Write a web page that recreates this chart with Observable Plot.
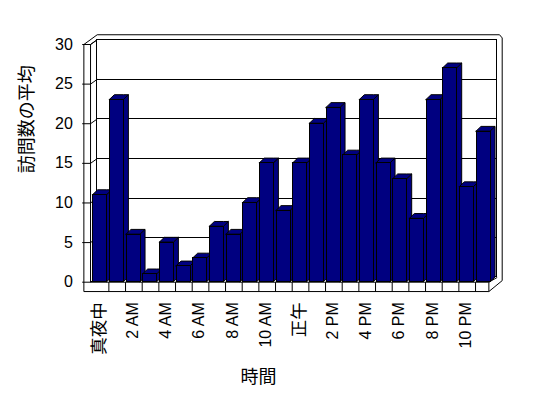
<!DOCTYPE html>
<html><head><meta charset="utf-8">
<script src="https://cdn.jsdelivr.net/npm/d3@7"></script>
<script src="https://cdn.jsdelivr.net/npm/@observablehq/plot@0.6"></script>
<style>body{margin:0;background:#fff}</style>
</head><body><div id="chart"></div>
<script>
// ---- data ----
const hours = [0,1,2,3,4,5,6,7,8,9,10,11,12,13,14,15,16,17,18,19,20,21,22,23];
const visits = [11,23,6,1,5,2,3,7,6,10,15,9,15,20,22,16,23,15,13,8,23,27,12,19];
const tickHours = [0,2,4,6,8,10,12,14,16,18,20,22];
const tickLabels = ["真夜中","2 AM","4 AM","6 AM","8 AM","10 AM","正午","2 PM","4 PM","6 PM","8 PM","10 PM"];
const yTicks = [0,5,10,15,20,25,30];
const yTitle = "訪問数の平均";
const xTitle = "時間";

// ---- geometry (derived) ----
const n = hours.length, yMax = yTicks[yTicks.length-1];
const DX = 0.3, DY = 0.6;          // 3-D depth offset in data units
const L = -0.5, LI = -0.1, FB = -1.18, R = n - 0.2, TX = 0.3, T = 0.63;
const navy = "#000080";

const bars = hours.map((h,i)=>({h, v: visits[i], x1: h+0.06, x2: h+0.9}));
const faces = bars.flatMap((b,i)=>[
  {z:"s"+i, x:b.x2,    y1:0,        y2:b.v},
  {z:"s"+i, x:b.x2+DX, y1:DY,       y2:b.v+DY},
  {z:"t"+i, x:b.x1,    y1:b.v,      y2:b.v},
  {z:"t"+i, x:b.x1+DX, y1:b.v,      y2:b.v+DY},
  {z:"t"+i, x:b.x2,    y1:b.v,      y2:b.v+DY},
  {z:"t"+i, x:b.x2+DX, y1:b.v+DY,   y2:b.v+DY}
]);

const seg = (x1,y1,x2,y2)=>({x1,y1,x2,y2});
const wallTop = yMax+DY+T, RO = n+DX+TX;
const frame = [
  seg(L,FB,L,yMax), seg(LI,0,LI,yMax), seg(L,yMax,LI,yMax),
  seg(L,yMax,DX,wallTop), seg(LI,yMax,DX,yMax+DY),
  seg(DX,wallTop,RO-0.16,wallTop), seg(RO-0.16,wallTop,RO,wallTop-0.4), seg(RO,wallTop-0.4,RO,DY-0.4),
  seg(R,FB,RO,DY-0.4), seg(L,FB,R,FB), seg(LI,0,R,0), seg(R,FB,R,0), seg(R,0,n+DX,DY)
];
for (let k=1;k<n;k++) frame.push(seg(k,FB,k,0));
for (const t of yTicks) { frame.push(seg(-0.6,t,LI,t)); frame.push(seg(LI,t,DX,t+DY)); }
const grid = yTicks.filter(t=>t>0 && t<yMax).map(t=>seg(DX,t+DY,n+DX,t+DY));
const wall = [{x1:DX, x2:n+DX, y1:DY, y2:yMax+DY}];

const font = "'Liberation Sans', 'Noto Sans CJK JP', sans-serif";
const isCJK = s => /[^\x00-\x7f]/.test(s);

const chart = Plot.plot({
  width: 548, height: 398,
  marginLeft: 91.7, marginRight: 56.3, marginTop: 44, marginBottom: 116.3,
  x: {domain: [0, n], axis: null},
  y: {domain: [0, yMax], axis: null},
  style: {background: "white", fontFamily: font, fontSize: "16px", overflow: "visible", color: "black"},
  marks: [
    Plot.rect(wall, {x1:"x1", x2:"x2", y1:"y1", y2:"y2", fill:"white", stroke:"black", shapeRendering:"crispEdges"}),
    Plot.link(grid, {x1:"x1", y1:"y1", x2:"x2", y2:"y2", stroke:"black", strokeWidth:1, shapeRendering:"crispEdges"}),
    Plot.link(frame, {x1:"x1", y1:"y1", x2:"x2", y2:"y2", stroke:"black", strokeWidth:1}),
    Plot.areaY(faces, {x:"x", y1:"y1", y2:"y2", z:"z", fill:navy, stroke:"black", strokeWidth:1, curve:"linear"}),
    Plot.rect(bars, {x1:"x1", x2:"x2", y1:0, y2:"v", fill:navy, stroke:"black", strokeWidth:1, shapeRendering:"crispEdges"}),
    Plot.text(yTicks, {x: d=>L, y: d=>d, text: d=>String(d), textAnchor:"end", dx:-11, fontSize:16, fill:"black"}),
    Plot.text(tickHours, {x: d=>d+0.42, y: d=>0, text: (d,i)=>tickLabels[i], rotate:-90, textAnchor:"end", lineAnchor:"middle", dy:20,
      fontSize:(d,i)=>isCJK(tickLabels[i]) ? 17.5 : 16, fill:"black"}),
    Plot.text([yTitle], {frameAnchor:"left", text:d=>d, rotate:-90, dx:-64.7, dy:10, fontSize:18, lineAnchor:"middle", fill:"black"}),
    Plot.text([xTitle], {frameAnchor:"bottom", text:d=>d, dx:-33.7, dy:95, fontSize:18, lineAnchor:"middle", fill:"black"})
  ]
});
document.getElementById("chart").appendChild(chart);
</script>
</body></html>
